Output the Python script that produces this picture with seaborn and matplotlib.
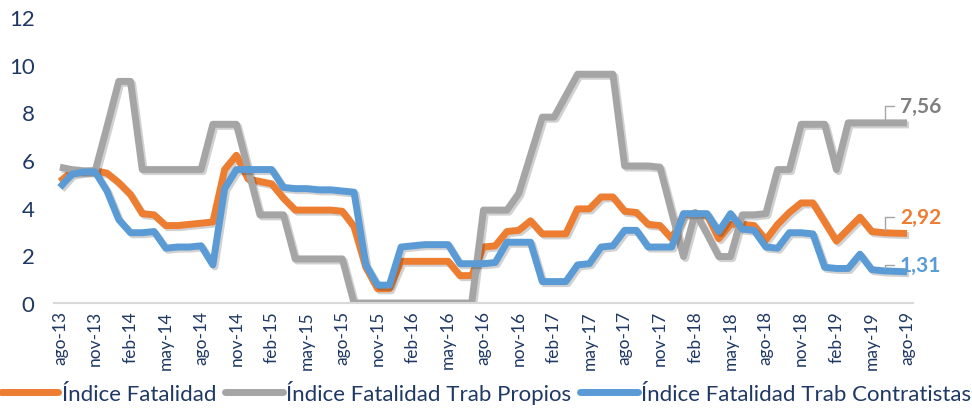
import matplotlib
matplotlib.use('Agg')
import matplotlib.pyplot as plt
import matplotlib.patheffects as pe
from matplotlib.lines import Line2D
import seaborn as sns
import pandas as pd
import numpy as np

sns.set_style('white')
plt.rcParams['font.family'] = ['Lato', 'DejaVu Sans']

# monthly categories ago-13 .. ago-19
meses = ['ene', 'feb', 'mar', 'abr', 'may', 'jun', 'jul', 'ago', 'sep', 'oct', 'nov', 'dic']
periodos = [f'{meses[(7 + k) % 12]}-{13 + (7 + k) // 12}' for k in range(73)]

fatalidad = [5.1, 5.5, 5.5, 5.55, 5.45, 5.05, 4.55, 3.75, 3.7, 3.25, 3.25, 3.3, 3.35,
             3.4, 5.6, 6.2, 5.2, 5.1, 5.0, 4.4, 3.9, 3.9, 3.9, 3.9, 3.85, 3.2, 1.5,
             0.6, 0.6, 1.75, 1.75, 1.75, 1.75, 1.75, 1.15, 1.15, 2.35, 2.4, 3.0, 3.05,
             3.45, 2.9, 2.9, 2.9, 3.95, 3.95, 4.45, 4.45, 3.85, 3.8, 3.3, 3.25, 2.7,
             3.7, 3.75, 3.7, 2.7, 3.3, 3.3, 3.25, 2.65, 3.3, 3.8, 4.2, 4.2, 3.4, 2.6,
             3.1, 3.6, 3.0, 2.95, 2.93, 2.92]
propios = [5.7, 5.6, 5.55, 5.55, 7.4, 9.3, 9.3, 5.6, 5.6, 5.6, 5.6, 5.6, 5.6,
           7.5, 7.5, 7.5, 5.6, 3.7, 3.7, 3.7, 1.85, 1.85, 1.85, 1.85, 1.85, 0, 0,
           0, 0, 0, 0, 0, 0, 0, 0, 0, 3.9, 3.9, 3.9, 4.6,
           6.2, 7.8, 7.8, 8.7, 9.6, 9.6, 9.6, 9.6, 5.75, 5.75, 5.75, 5.7, 3.8,
           1.95, 3.8, 2.9, 1.95, 1.95, 3.7, 3.7, 3.75, 5.6, 5.6, 7.5, 7.5, 7.5, 5.6,
           7.56, 7.56, 7.56, 7.56, 7.56, 7.56]
contratistas = [4.85, 5.4, 5.5, 5.5, 4.7, 3.5, 2.95, 2.95, 3.0, 2.3, 2.35, 2.35, 2.4,
                1.6, 4.8, 5.6, 5.6, 5.6, 5.6, 4.85, 4.8, 4.8, 4.75, 4.75, 4.7, 4.65, 1.6,
                0.75, 0.75, 2.35, 2.4, 2.45, 2.45, 2.45, 1.65, 1.65, 1.65, 1.7, 2.55, 2.55,
                2.55, 0.9, 0.9, 0.9, 1.6, 1.65, 2.35, 2.4, 3.05, 3.05, 2.35, 2.35, 2.35,
                3.75, 3.75, 3.75, 3.0, 3.75, 3.1, 3.05, 2.35, 2.3, 2.95, 2.95, 2.9, 1.5,
                1.45, 1.45, 2.05, 1.4, 1.35, 1.33, 1.31]

series = ['Índice Fatalidad', 'Índice Fatalidad Trab Propios', 'Índice Fatalidad Trab Contratistas']
colores = {series[0]: '#ED7D31', series[1]: '#A5A5A5', series[2]: '#5B9BD5'}
etiquetas = ['7,56', '2,92', '1,31']

navy = '#1F3864'

df = pd.DataFrame({
    'idx': np.tile(np.arange(len(periodos)), 3),
    'valor': fatalidad + propios + contratistas,
    'serie': np.repeat(series, len(periodos)),
})

fig = plt.figure(figsize=(9.72, 4.1), dpi=100)
ax = fig.add_axes([0.0556, 0.2585, 0.8836, 0.6975])

sns.lineplot(data=df, x='idx', y='valor', hue='serie', hue_order=series,
             palette=colores, linewidth=5, legend=False, ax=ax)
for ln in ax.get_lines():
    ln.set_solid_joinstyle('round')
    ln.set_solid_capstyle('butt')
    ln.set_path_effects([pe.SimpleLineShadow(offset=(1.5, -1.5), alpha=0.18),
                         pe.Normal()])

ax.set_xlim(-0.5, len(periodos) - 0.5)
ax.set_ylim(0, 12)
ax.set_yticks(range(0, 13, 2))
ax.set_xticks(range(0, len(periodos), 3))
ax.set_xticklabels(periodos[::3], rotation=90)
ax.set_xticks(np.arange(-0.5, len(periodos) - 1, 3), minor=True)
ax.tick_params(axis='x', which='major', length=0, pad=5, labelsize=12.5, labelcolor=navy)
ax.tick_params(axis='x', which='minor', length=5, width=1.2, color='#D9D9D9')
ax.tick_params(axis='y', length=0, pad=14, labelsize=16, labelcolor=navy)
ax.set_xlabel('')
ax.set_ylabel('')
for s in ['top', 'right', 'left']:
    ax.spines[s].set_visible(False)
ax.spines['bottom'].set_color('#D9D9D9')
ax.spines['bottom'].set_linewidth(1.5)
ax.grid(False)

# data labels on the last point
finales = [propios, fatalidad, contratistas]
cols_lbl = ['#7F7F7F', '#ED7D31', '#5B9BD5']
subida = [9.5, 9.5, 2.5]
for vals, txt, c, up in zip(finales, etiquetas, cols_lbl, subida):
    ax.annotate(txt, xy=(len(periodos) - 2.9, vals[-1] + 0.15),
                xytext=(11, up), textcoords='offset points',
                ha='left', va='center', fontsize=15, fontweight='bold', color=c,
                arrowprops=dict(arrowstyle='-', color='#A5A5A5', lw=1,
                                connectionstyle='angle,angleA=0,angleB=90,rad=0',
                                shrinkA=2, shrinkB=0))

handles = [Line2D([0], [0], color=colores[s], lw=5) for s in series]
fig.legend(handles, series, loc='center', bbox_to_anchor=(0.5, 0.042), ncol=3,
           frameon=False, fontsize=16, handlelength=2.6, handletextpad=0.15,
           columnspacing=0.4, labelcolor=navy)

fig.savefig('out.png', dpi=100, facecolor='white')
